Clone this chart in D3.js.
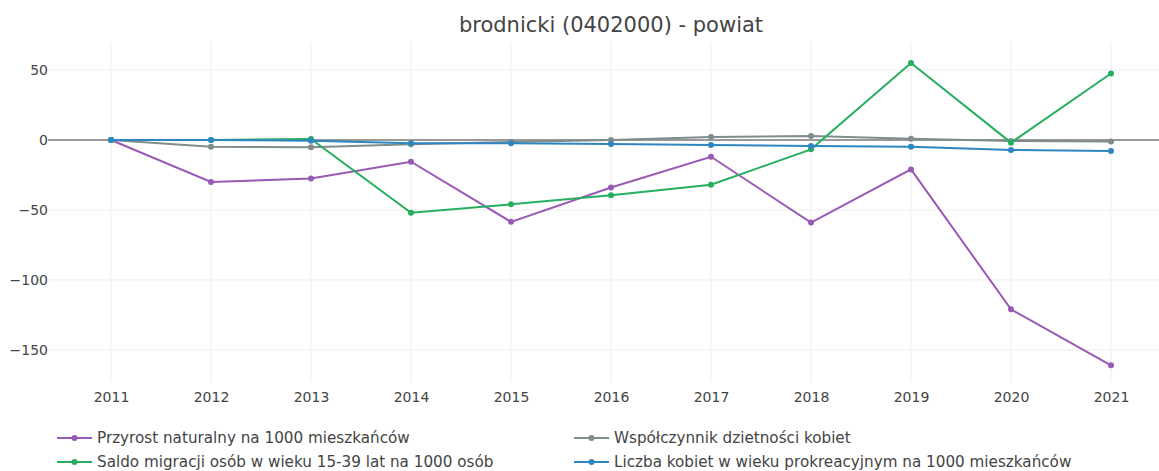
<!DOCTYPE html>
<html>
<head>
  <meta charset="utf-8">
  <title>brodnicki (0402000) - powiat</title>
  <script src="https://d3js.org/d3.v7.min.js"></script>
  <style>
    body { margin: 0; background: #fff; }
    svg { display: block; font-family: "DejaVu Sans", Verdana, sans-serif; }
    .grid line { stroke: #eee; stroke-width: 1; }
    .tick-label { font-size: 14px; fill: #444; }
    .legend-text { font-size: 15.2px; fill: #444; }
    .title { font-size: 21px; fill: #444; }
  </style>
</head>
<body>
  <div id="chart"></div>
  <script>
    // Data
    const years = [2011, 2012, 2013, 2014, 2015, 2016, 2017, 2018, 2019, 2020, 2021];
    const przyrost = [0, -30, -27.5, -15.5, -58.5, -34, -12, -59, -21, -121, -161];
    const wspolczynnik = [0, -4.8, -5.2, -3, -1.5, 0, 2.2, 2.9, 0.8, -0.8, -1];
    const saldo = [0, 0, 0.7, -52, -46, -39.5, -32, -6.7, 55, -1.9, 47.5];
    const liczba = [0, 0, -0.5, -2.4, -2.4, -2.9, -3.6, -4.3, -4.8, -7.1, -7.9];
    const yTicks = [50, 0, -50, -100, -150];

    const series = [
      { name: "Przyrost naturalny na 1000 mieszkańców", values: przyrost, color: "#9b59b6" },
      { name: "Współczynnik dzietności kobiet", values: wspolczynnik, color: "#7f8c8d" },
      { name: "Saldo migracji osób w wieku 15-39 lat na 1000 osób", values: saldo, color: "#27ae60" },
      { name: "Liczba kobiet w wieku prokreacyjnym na 1000 mieszkańców", values: liczba, color: "#2e86c1" }
    ];

    const W = 1159, H = 471;
    const plot = { left: 48, right: 1159, top: 42, bottom: 382 };

    const svg = d3.select("#chart").append("svg")
      .attr("width", W)
      .attr("height", H);

    const x = d3.scaleLinear()
      .domain([2010.37, 2021.48])
      .range([plot.left, plot.right]);

    const y = d3.scaleLinear()
      .domain([-172.9, 70])
      .range([plot.bottom, plot.top]);

    // grid
    const grid = svg.append("g").attr("class", "grid");
    grid.selectAll(".vx").data(years).enter().append("line")
      .attr("x1", d => x(d)).attr("x2", d => x(d))
      .attr("y1", plot.top).attr("y2", plot.bottom);
    grid.selectAll(".hy").data(yTicks.filter(d => d !== 0)).enter().append("line")
      .attr("x1", plot.left).attr("x2", plot.right)
      .attr("y1", d => y(d)).attr("y2", d => y(d));

    // zero line
    svg.append("line")
      .attr("x1", plot.left).attr("x2", plot.right)
      .attr("y1", y(0)).attr("y2", y(0))
      .attr("stroke", "#777").attr("stroke-width", 1.5);

    // axes (labels only, as in plotly)
    const xAxis = svg.append("g")
      .attr("transform", `translate(0, ${plot.bottom})`)
      .call(d3.axisBottom(x).tickValues(years).tickFormat(d3.format("d")).tickSize(0).tickPadding(10));
    xAxis.select(".domain").remove();
    xAxis.selectAll("text").attr("class", "tick-label").attr("fill", null);
    xAxis.attr("font-family", null).attr("font-size", null);

    const yAxis = svg.append("g")
      .attr("transform", `translate(${plot.left}, 0)`)
      .call(d3.axisLeft(y).tickValues(yTicks).tickFormat(d => d3.format("d")(d)).tickSize(0).tickPadding(0));
    yAxis.select(".domain").remove();
    yAxis.selectAll("text").attr("class", "tick-label").attr("fill", null);
    yAxis.attr("font-family", null).attr("font-size", null);

    // lines
    const line = d3.line()
      .x((d, i) => x(years[i]))
      .y(d => y(d));

    series.forEach(s => {
      const g = svg.append("g");
      g.append("path")
        .datum(s.values)
        .attr("fill", "none")
        .attr("stroke", s.color)
        .attr("stroke-width", 2)
        .attr("d", line);
      g.selectAll("circle").data(s.values).enter().append("circle")
        .attr("cx", (d, i) => x(years[i]))
        .attr("cy", d => y(d))
        .attr("r", 3)
        .attr("fill", s.color);
    });

    // title
    svg.append("text")
      .attr("class", "title")
      .attr("x", 611)
      .attr("y", 32)
      .attr("text-anchor", "middle")
      .text("brodnicki (0402000) - powiat");

    // legend: two columns, filled row-wise
    const legendPos = [
      { x: 57, y: 438 },
      { x: 574, y: 438 },
      { x: 57, y: 462 },
      { x: 574, y: 462 }
    ];
    series.forEach((s, i) => {
      const p = legendPos[i];
      const g = svg.append("g").attr("transform", `translate(${p.x}, ${p.y})`);
      g.append("line")
        .attr("x1", 0).attr("x2", 35)
        .attr("stroke", s.color).attr("stroke-width", 2);
      g.append("circle").attr("cx", 17.5).attr("r", 3).attr("fill", s.color);
      g.append("text")
        .attr("class", "legend-text")
        .attr("x", 40)
        .attr("dy", "0.35em")
        .text(s.name);
    });
  </script>
</body>
</html>
